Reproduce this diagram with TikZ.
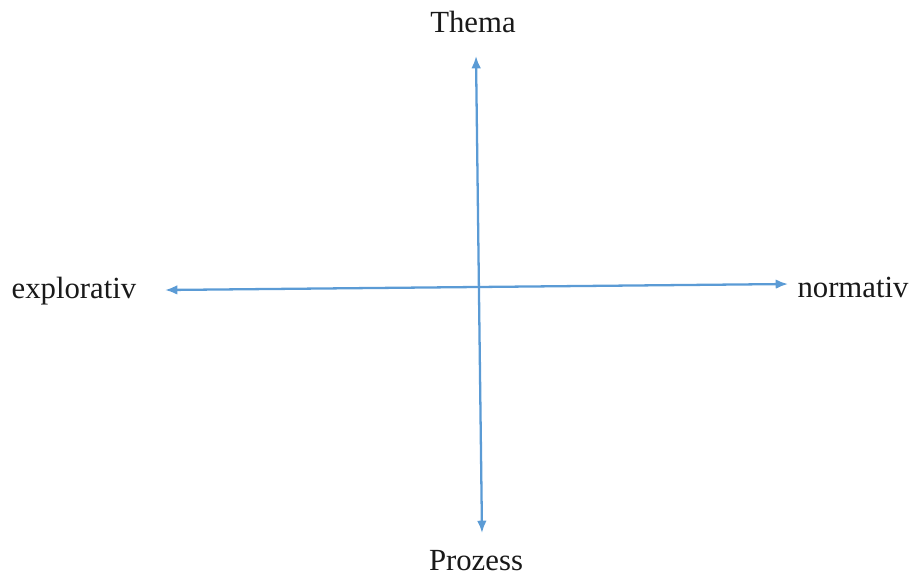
\documentclass[tikz,border=0pt]{standalone}
\usepackage{fontspec}
\setmainfont{Liberation Serif}
\usetikzlibrary{arrows.meta}
\definecolor{axisblue}{RGB}{91,155,213}

\begin{document}
\begin{tikzpicture}[x=0.02cm, y=-0.02cm, font=\fontsize{17.5}{20}\selectfont,
    label/.style={inner sep=0pt, text=black!90},
    axis/.style={draw=axisblue, line width=1.3pt, {Latex[length=7pt,width=5.5pt]}-{Latex[length=7pt,width=5.5pt]}}]
    \useasboundingbox (0,0) rectangle (912,576);
    % Labels
    \node[label] (thema) at (473,22) {Thema};
    \node[label] (prozess) at (476,561) {Prozess};
    \node[label] (explorativ) at (74,291) {explorativ};
    \node[label] (normativ) at (853,287) {normativ};
    
    % Axis ends
    \coordinate (top) at (476,56);
    \coordinate (bottom) at (482,533);
    \coordinate (left) at (165,290);
    \coordinate (right) at (788,284);
    
    % Axes
    \draw[axis] (top) -- (bottom);
    \draw[axis] (left) -- (right);
\end{tikzpicture}
\end{document}
